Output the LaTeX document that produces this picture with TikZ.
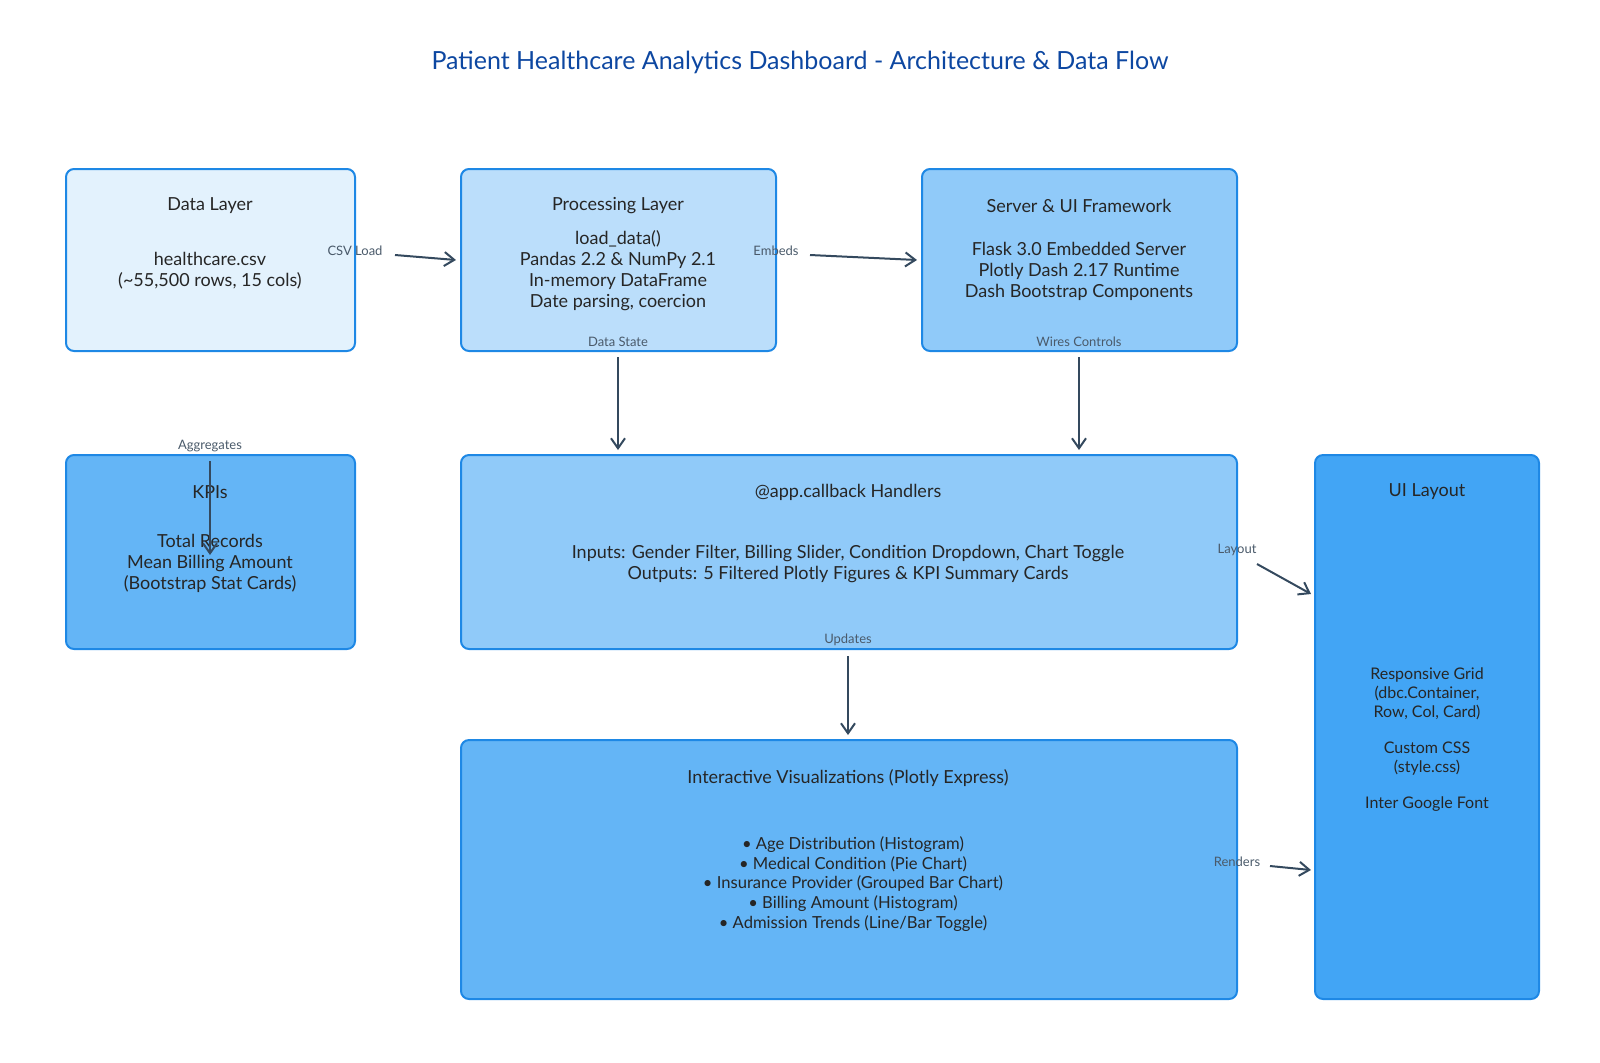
\documentclass[tikz,border=0pt]{standalone}
\usepackage{fontspec}
\setmainfont{Lato}
\usetikzlibrary{arrows.meta}
\definecolor{bd}{HTML}{1E88E5}
\definecolor{fa}{HTML}{E3F2FD}
\definecolor{fb}{HTML}{BBDEFB}
\definecolor{fc}{HTML}{90CAF9}
\definecolor{fd}{HTML}{64B5F6}
\definecolor{fe}{HTML}{42A5F5}
\definecolor{ar}{HTML}{34495E}
\definecolor{tt}{HTML}{0D47A1}
\definecolor{lb}{HTML}{4A5A6A}
\tikzset{
 boxs/.style={draw=bd,line width=1pt,rounded corners=4pt},
 txt/.style={font=\fontsize{9}{10.5}\selectfont,align=center,text=black!85},
 small/.style={font=\fontsize{6.5}{8}\selectfont,text=lb},
 conn/.style={draw=ar,line width=1pt,-{Straight Barb[length=5pt,width=7pt]}}
}
\begin{document}
\begin{tikzpicture}[x=0.5pt,y=-0.5pt]
\useasboundingbox (0,0) rectangle (1600,1062);
\node[font=\fontsize{12.5}{14}\selectfont,text=tt] (title) at (800,62) {Patient Healthcare Analytics Dashboard - Architecture \& Data Flow};
% boxes
\draw[boxs,fill=fa] (66,169) rectangle (355,351);
\draw[boxs,fill=fb] (461,169) rectangle (776,351);
\draw[boxs,fill=fc] (922,169) rectangle (1237,351);
\draw[boxs,fill=fd] (66,455) rectangle (355,649);
\draw[boxs,fill=fc] (461,455) rectangle (1237,649);
\draw[boxs,fill=fd] (461,740) rectangle (1237,999);
\draw[boxs,fill=fe] (1315,455) rectangle (1539,999);
% texts
\node[txt] (t1) at (210,206) {Data Layer};
\node[txt] (b1) at (210,271) {healthcare.csv\\(\textasciitilde55,500 rows, 15 cols)};
\node[txt] (t2) at (618,206) {Processing Layer};
\node[txt] (b2) at (618,271) {load\_data()\\Pandas 2.2 \& NumPy 2.1\\In-memory DataFrame\\Date parsing, coercion};
\node[txt] (t3) at (1079,206) {Server \& UI Framework};
\node[txt] (b3) at (1079,271) {Flask 3.0 Embedded Server\\Plotly Dash 2.17 Runtime\\Dash Bootstrap Components};
\node[txt] (t4) at (210,492) {KPIs};
\node[txt] (b4) at (210,563) {Total Records\\Mean Billing Amount\\(Bootstrap Stat Cards)};
\node[txt] (t5) at (848,492) {@app.callback Handlers};
\node[txt] (b5) at (848,564) {Inputs: Gender Filter, Billing Slider, Condition Dropdown, Chart Toggle\\Outputs: 5 Filtered Plotly Figures \& KPI Summary Cards};
\node[txt] (t6) at (848,778) {Interactive Visualizations (Plotly Express)};
\node[txt,font=\fontsize{8.3}{9.8}\selectfont] (b6) at (853,884) {• Age Distribution (Histogram)\\• Medical Condition (Pie Chart)\\• Insurance Provider (Grouped Bar Chart)\\• Billing Amount (Histogram)\\• Admission Trends (Line/Bar Toggle)};
\node[txt] (t7) at (1427,492) {UI Layout};
\node[txt,font=\fontsize{8}{9.3}\selectfont] (b7) at (1427,740) {Responsive Grid\\(dbc.Container,\\Row, Col, Card)\\[9pt]Custom CSS\\(style.css)\\[9pt]Inter Google Font};
% connectors
\coordinate (a1s) at (395,255); \coordinate (a1e) at (456,260);
\draw[conn] (a1s) -- (a1e); \node[small] (l1) at (355,251) {CSV Load};
\coordinate (a2s) at (810,255); \coordinate (a2e) at (917,260);
\draw[conn] (a2s) -- (a2e); \node[small] (l2) at (776,251) {Embeds};
\coordinate (a3s) at (618,357); \coordinate (a3e) at (618,450);
\draw[conn] (a3s) -- (a3e); \node[small] (l3) at (618,342) {Data State};
\coordinate (a4s) at (1079,357); \coordinate (a4e) at (1079,450);
\draw[conn] (a4s) -- (a4e); \node[small] (l4) at (1079,342) {Wires Controls};
\coordinate (a5s) at (210,461); \coordinate (a5e) at (210,555);
\draw[conn] (a5s) -- (a5e); \node[small] (l5) at (210,446) {Aggregates};
\coordinate (a6s) at (848,656); \coordinate (a6e) at (848,735);
\draw[conn] (a6s) -- (a6e); \node[small] (l6) at (848,640) {Updates};
\coordinate (a7s) at (1257,564); \coordinate (a7e) at (1311,594);
\draw[conn] (a7s) -- (a7e); \node[small] (l7) at (1237,550) {Layout};
\coordinate (a8s) at (1270,866); \coordinate (a8e) at (1311,870);
\draw[conn] (a8s) -- (a8e); \node[small] (l8) at (1237,862) {Renders};
\end{tikzpicture}
\end{document}
